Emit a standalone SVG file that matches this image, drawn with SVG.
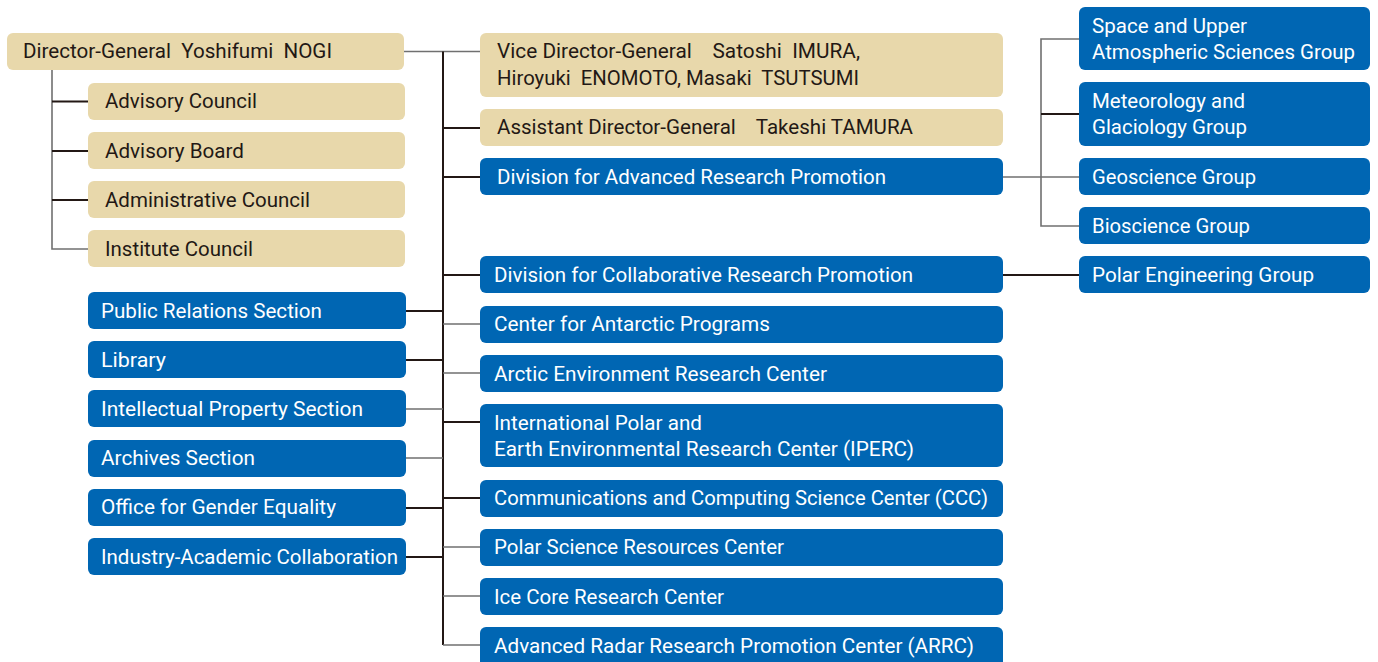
<svg xmlns="http://www.w3.org/2000/svg" width="1378" height="662" viewBox="0 0 1378 662">
<defs>
<style>
.b{fill:#e8d8ab}
.u{fill:#0066b3}
text{font-family:Roboto,"Liberation Sans",sans-serif;font-size:19.5px;white-space:pre}
.dt{fill:#231815}
.wt{fill:#ffffff}
.k{stroke:#231815;stroke-width:2;fill:none}
.g{stroke:#707070;stroke-width:1.6;fill:none}
</style>
</defs>
<rect width="1378" height="662" fill="#ffffff"/>
<g id="connectors">
<path class="g" d="M404 51.5H443M443 51.5H480"/>
<path class="k" d="M443 51.5V645"/>
<path class="g" d="M52 70V249H88"/>
<path class="k" d="M52 101.5H88M52 151H88M52 200H88"/>
<path class="k" d="M443 128H480M443 177H480M443 275H480M443 498H480M443 422H480"/>
<path class="g" d="M443 324H480M443 373H480M443 547H480M443 596H480M443 645H480"/>
<path class="k" d="M406 311H443M406 360H443M406 508H443M406 557H443"/>
<path class="g" d="M406 409H443M406 458H443"/>
<path class="g" d="M1003 177H1079M1079 39H1041V226H1079"/>
<path class="k" d="M1041 114H1079M1003 275H1079"/>
</g>
<g id="n-dg"><rect class="b" x="7" y="33" width="397" height="37" rx="6"/><text class="dt" x="23" y="58" textLength="309" lengthAdjust="spacingAndGlyphs">Director-General  Yoshifumi  NOGI</text></g>
<g id="n-advisory-council"><rect class="b" x="88" y="83" width="317" height="37" rx="6"/><text class="dt" x="105" y="108" textLength="152" lengthAdjust="spacingAndGlyphs">Advisory Council</text></g>
<g id="n-advisory-board"><rect class="b" x="88" y="132" width="317" height="37" rx="6"/><text class="dt" x="105" y="158" textLength="139" lengthAdjust="spacingAndGlyphs">Advisory Board</text></g>
<g id="n-admin-council"><rect class="b" x="88" y="181" width="317" height="37" rx="6"/><text class="dt" x="105" y="207" textLength="205" lengthAdjust="spacingAndGlyphs">Administrative Council</text></g>
<g id="n-institute-council"><rect class="b" x="88" y="230" width="317" height="37" rx="6"/><text class="dt" x="105" y="256" textLength="148" lengthAdjust="spacingAndGlyphs">Institute Council</text></g>
<g id="n-vice"><rect class="b" x="480" y="33" width="523" height="64" rx="6"/><text class="dt" x="497" y="58" textLength="363" lengthAdjust="spacingAndGlyphs">Vice Director-General    Satoshi  IMURA,</text><text class="dt" x="497" y="85" textLength="362" lengthAdjust="spacingAndGlyphs">Hiroyuki  ENOMOTO, Masaki  TSUTSUMI</text></g>
<g id="n-assistant"><rect class="b" x="480" y="109" width="523" height="37" rx="6"/><text class="dt" x="497" y="134" textLength="416" lengthAdjust="spacingAndGlyphs">Assistant Director-General    Takeshi TAMURA</text></g>
<g id="n-div-adv"><rect class="u" x="480" y="158" width="523" height="37" rx="6"/><text class="wt" x="497" y="184" textLength="389" lengthAdjust="spacingAndGlyphs">Division for Advanced Research Promotion</text></g>
<g id="n-div-collab"><rect class="u" x="480" y="256" width="523" height="37" rx="6"/><text class="wt" x="494" y="282" textLength="419" lengthAdjust="spacingAndGlyphs">Division for Collaborative Research Promotion</text></g>
<g id="n-antarctic"><rect class="u" x="480" y="306" width="523" height="37" rx="6"/><text class="wt" x="494" y="331" textLength="276" lengthAdjust="spacingAndGlyphs">Center for Antarctic Programs</text></g>
<g id="n-arctic"><rect class="u" x="480" y="355" width="523" height="37" rx="6"/><text class="wt" x="494" y="381" textLength="333" lengthAdjust="spacingAndGlyphs">Arctic Environment Research Center</text></g>
<g id="n-iperc"><rect class="u" x="480" y="404" width="523" height="63" rx="6"/><text class="wt" x="494" y="430" textLength="208" lengthAdjust="spacingAndGlyphs">International Polar and</text><text class="wt" x="494" y="456" textLength="420" lengthAdjust="spacingAndGlyphs">Earth Environmental Research Center (IPERC)</text></g>
<g id="n-ccc"><rect class="u" x="480" y="480" width="523" height="37" rx="6"/><text class="wt" x="494" y="505" textLength="494" lengthAdjust="spacingAndGlyphs">Communications and Computing Science Center (CCC)</text></g>
<g id="n-polar-sci"><rect class="u" x="480" y="529" width="523" height="37" rx="6"/><text class="wt" x="494" y="554" textLength="290" lengthAdjust="spacingAndGlyphs">Polar Science Resources Center</text></g>
<g id="n-ice-core"><rect class="u" x="480" y="578" width="523" height="37" rx="6"/><text class="wt" x="494" y="604" textLength="230" lengthAdjust="spacingAndGlyphs">Ice Core Research Center</text></g>
<g id="n-arrc"><rect class="u" x="480" y="627" width="523" height="45" rx="6"/><text class="wt" x="494" y="653" textLength="480" lengthAdjust="spacingAndGlyphs">Advanced Radar Research Promotion Center (ARRC)</text></g>
<g id="n-pr"><rect class="u" x="88" y="292" width="318" height="37" rx="6"/><text class="wt" x="101" y="318" textLength="221" lengthAdjust="spacingAndGlyphs">Public Relations Section</text></g>
<g id="n-library"><rect class="u" x="88" y="341" width="318" height="37" rx="6"/><text class="wt" x="101" y="367" textLength="65" lengthAdjust="spacingAndGlyphs">Library</text></g>
<g id="n-ip"><rect class="u" x="88" y="390" width="318" height="37" rx="6"/><text class="wt" x="101" y="416" textLength="262" lengthAdjust="spacingAndGlyphs">Intellectual Property Section</text></g>
<g id="n-archives"><rect class="u" x="88" y="440" width="318" height="37" rx="6"/><text class="wt" x="101" y="465" textLength="154" lengthAdjust="spacingAndGlyphs">Archives Section</text></g>
<g id="n-gender"><rect class="u" x="88" y="489" width="318" height="37" rx="6"/><text class="wt" x="101" y="514" textLength="235" lengthAdjust="spacingAndGlyphs">Office for Gender Equality</text></g>
<g id="n-industry"><rect class="u" x="88" y="538" width="318" height="37" rx="6"/><text class="wt" x="101" y="564" textLength="297" lengthAdjust="spacingAndGlyphs">Industry-Academic Collaboration</text></g>
<g id="n-space"><rect class="u" x="1079" y="7" width="291" height="63" rx="6"/><text class="wt" x="1092" y="33" textLength="155" lengthAdjust="spacingAndGlyphs">Space and Upper</text><text class="wt" x="1092" y="59" textLength="263" lengthAdjust="spacingAndGlyphs">Atmospheric Sciences Group</text></g>
<g id="n-meteo"><rect class="u" x="1079" y="82" width="291" height="64" rx="6"/><text class="wt" x="1092" y="108" textLength="153" lengthAdjust="spacingAndGlyphs">Meteorology and</text><text class="wt" x="1092" y="134" textLength="155" lengthAdjust="spacingAndGlyphs">Glaciology Group</text></g>
<g id="n-geo"><rect class="u" x="1079" y="158" width="291" height="37" rx="6"/><text class="wt" x="1092" y="184" textLength="164" lengthAdjust="spacingAndGlyphs">Geoscience Group</text></g>
<g id="n-bio"><rect class="u" x="1079" y="207" width="291" height="37" rx="6"/><text class="wt" x="1092" y="233" textLength="158" lengthAdjust="spacingAndGlyphs">Bioscience Group</text></g>
<g id="n-polar-eng"><rect class="u" x="1079" y="256" width="291" height="37" rx="6"/><text class="wt" x="1092" y="282" textLength="222" lengthAdjust="spacingAndGlyphs">Polar Engineering Group</text></g>
</svg>
